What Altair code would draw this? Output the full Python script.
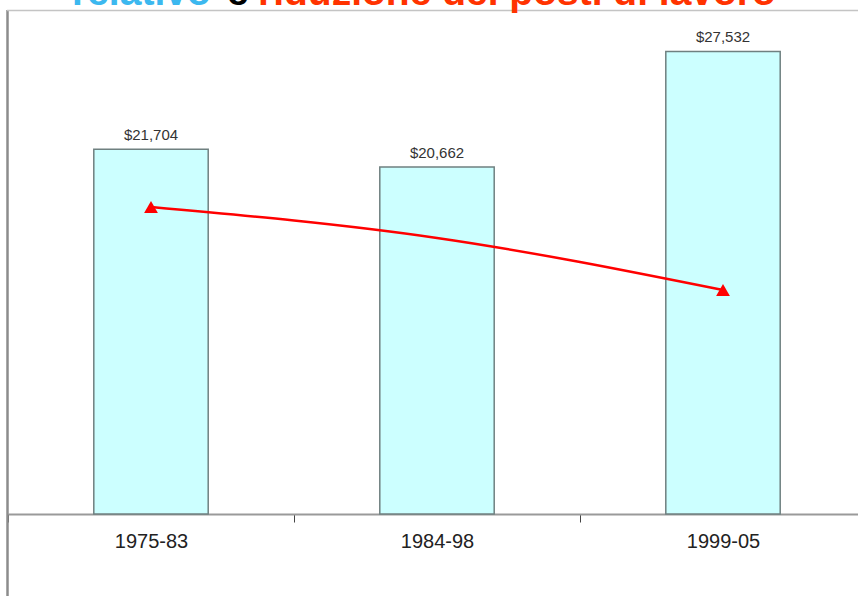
import altair as alt
import pandas as pd

# ---- data ----
periods = ["1975-83", "1984-98", "1999-05"]
income = [21704, 20662, 27532]          # bar values ($)
trend = [18270, 16430, 13330]           # red trend line (same hidden scale)
marker_periods = ["1975-83", "1999-05"]  # points that carry a triangle marker
title_parts = ["relativo", "e", "riduzione dei posti di lavoro"]

df = pd.DataFrame({"period": periods, "income": income, "trend": trend})
one = pd.DataFrame({"k": [0]})

FONT = "Liberation Sans"
W, H = 850, 504

x_enc = alt.X(
    "period:N", sort=periods, title=None,
    scale=alt.Scale(range=[0, 858], paddingInner=0, paddingOuter=0),
    axis=alt.Axis(tickBand="extent", labelAngle=0, labelFont=FONT, labelFontSize=20,
                  labelColor="#222222", labelPadding=9, tickSize=8, tickColor="#444444",
                  tickWidth=1, domainColor="#9a9a9a", domainWidth=2, grid=False),
)
y_scale = alt.Scale(domain=[0, 30000], nice=False, zero=True)

base = alt.Chart(df)

bars = base.mark_bar(width=alt.RelativeBandSize(0.4), fill="#CCFFFF",
                     stroke="#6f8080", strokeWidth=1.5).encode(
    x=x_enc, y=alt.Y("income:Q", scale=y_scale, axis=None))

labels = base.mark_text(font=FONT, fontSize=15, color="#333333",
                        baseline="alphabetic", dy=-9).encode(
    x=x_enc, y=alt.Y("income:Q", scale=y_scale, axis=None),
    text=alt.Text("income:Q", format="$,.0f"))

line = base.mark_line(color="#FF0000", strokeWidth=2.5, interpolate="monotone").encode(
    x=x_enc, y=alt.Y("trend:Q", scale=y_scale, axis=None))

points = base.transform_filter(
    alt.FieldOneOfPredicate(field="period", oneOf=marker_periods)
).mark_point(shape="triangle-up", filled=True, size=190, color="#FF0000", opacity=1).encode(
    x=x_enc, y=alt.Y("trend:Q", scale=y_scale, axis=None))

left_border = alt.Chart(one).mark_rule(color="#8c8c8c", strokeWidth=2.5).encode(
    x=alt.value(-0.5), y=alt.value(0), y2=alt.value(600))
top_border = alt.Chart(one).mark_rule(color="#c4c4c4", strokeWidth=1.5).encode(
    x=alt.value(-1), x2=alt.value(860), y=alt.value(0.5))

def title_piece(txt, xpos, color):
    return alt.Chart(pd.DataFrame({"t": [txt]})).mark_text(
        font=FONT, fontSize=39, fontWeight="bold", color=color,
        align="left", baseline="alphabetic").encode(
        x=alt.value(xpos), y=alt.value(-5), text="t:N")

t1 = title_piece(title_parts[0], 64, "#3cb8ef")
t2 = title_piece(title_parts[1], 219, "#000000")
t3 = title_piece(title_parts[2], 250, "#ff3300")

chart = alt.layer(
    bars, labels, line, points, left_border, top_border, t1, t2, t3
).properties(
    width=W, height=H,
    autosize=alt.AutoSizeParams(type="none"),
    padding={"left": 8, "top": 10, "right": 0, "bottom": 82},
    background="white",
).configure_view(stroke=None)

chart.save("out.html", embed_options={"renderer": "svg", "actions": False})
